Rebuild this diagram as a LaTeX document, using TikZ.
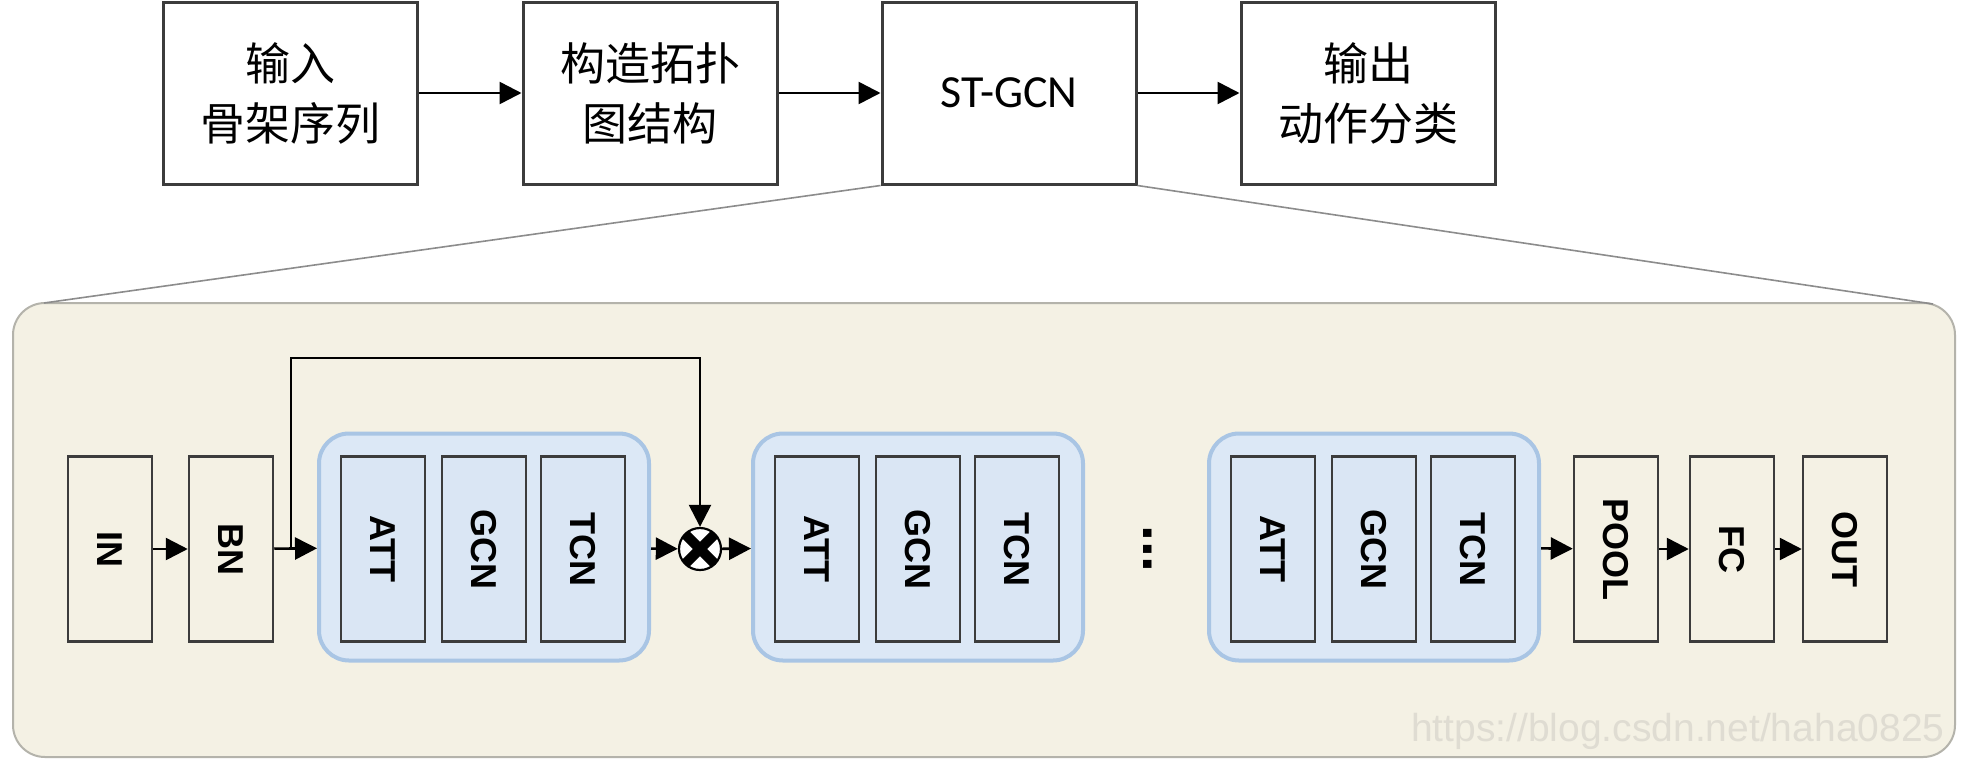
\documentclass[tikz,border=0pt]{standalone}
\usepackage{fontspec}
\setmainfont{Liberation Sans}
\newfontfamily\cjk{Noto Sans CJK SC}
\newfontfamily\carl{Carlito}
\usetikzlibrary{arrows.meta,calc}
\definecolor{panelfill}{HTML}{F4F1E4}
\definecolor{panelline}{HTML}{B4B3AB}
\definecolor{boxline}{HTML}{3C3C3C}
\definecolor{grpfill}{HTML}{DCE8F6}
\definecolor{grpline}{HTML}{A9C5E4}
\definecolor{innerfill}{HTML}{DAE6F4}
\definecolor{zoomline}{HTML}{8C8C8C}
\definecolor{wmark}{HTML}{DFDCD2}
\begin{document}
\begin{tikzpicture}[x=1pt,y=-1pt,
  topbox/.style={draw=boxline,line width=3pt,fill=white,minimum width=254pt,minimum height=182pt,inner sep=0pt,align=center},
  cjktext/.style={font=\cjk\fontsize{45}{60}\selectfont},
  layer/.style={draw=boxline,line width=2.5pt,minimum width=84pt,minimum height=185pt,inner sep=0pt,
    font=\bfseries\fontsize{36}{36}\selectfont},
  plainlayer/.style={layer,fill=panelfill},
  bluelayer/.style={layer,fill=innerfill},
  group/.style={draw=grpline,fill=grpfill,line width=4pt,rounded corners=30pt,minimum width=330pt,minimum height=227pt,inner sep=0pt},
  arr/.style={draw=black,line width=2.6pt,-{Triangle[length=22pt,width=22pt]}},
]
\useasboundingbox (0,0) rectangle (1968,772);
\fill[white] (0,0) rectangle (1968,772);

% top row
\node[topbox,cjktext] (b1) at (290,93) {输入\\骨架序列};
\node[topbox,cjktext] (b2) at (650,93) {构造拓扑\\图结构};
\node[topbox,font=\carl\fontsize{46}{46}\selectfont] (b3) at (1009,93) {ST-GCN};
\node[topbox,cjktext] (b4) at (1368,93) {输出\\动作分类};
\draw[arr] (b1) -- (b2);
\draw[arr] (b2) -- (b3);
\draw[arr] (b3) -- (b4);

% panel
\draw[draw=panelline,fill=panelfill,line width=2pt,rounded corners=32pt] (13,303) rectangle (1955,757);
\coordinate (pl) at (44,303);
\coordinate (pr) at (1933,304);
\draw[zoomline,line width=1.6pt] (b3.south west) -- (pl);
\draw[zoomline,line width=1.6pt] (b3.south east) -- (pr);

% watermark
\node[text=wmark,font=\fontsize{39}{39}\selectfont,anchor=east] (wm) at (1948,731) {https://blog.csdn.net/haha0825};

% input layers
\node[plainlayer] (in) at (110,549) {}; \node[rotate=-90,font=\bfseries\fontsize{36}{36}\selectfont] at (in) {IN};
\node[plainlayer] (bn) at (231,549) {}; \node[rotate=-90,font=\bfseries\fontsize{36}{36}\selectfont] at (bn) {BN};

% groups
\foreach \g/\x in {g1/484,g2/918,g3/1374}{
  \node[group] (\g) at (\x,547) {};
  \node[bluelayer] (\g a) at (\x-101,549) {};
  \node[bluelayer] (\g b) at (\x,549) {};
  \node[bluelayer] (\g c) at (\x+99,549) {};
  \node[rotate=-90,font=\bfseries\fontsize{36}{36}\selectfont] at (\g a) {ATT};
  \node[rotate=-90,font=\bfseries\fontsize{36}{36}\selectfont] at (\g b) {GCN};
  \node[rotate=-90,font=\bfseries\fontsize{36}{36}\selectfont] at (\g c) {TCN};
}

% output layers
\node[plainlayer] (pool) at (1616,549) {}; \node[rotate=-90,font=\bfseries\fontsize{36}{36}\selectfont] at (pool) {POOL};
\node[plainlayer] (fc) at (1732,549) {}; \node[rotate=-90,font=\bfseries\fontsize{36}{36}\selectfont] at (fc) {FC};
\node[plainlayer] (out) at (1845,549) {}; \node[rotate=-90,font=\bfseries\fontsize{36}{36}\selectfont] at (out) {OUT};

% dots
\node[rotate=-90,anchor=base,inner sep=0pt,font=\bfseries\fontsize{57}{57}\selectfont] (dots) at (1143,549) {...};

% multiply circle
\node[circle,fill=white,minimum size=44pt,inner sep=0pt] (cx) at (700,549) {};
\begin{scope}
  \clip (cx.center) circle (21pt);
  \draw[line width=10pt] (cx.45) -- (cx.225) (cx.135) -- (cx.-45);
\end{scope}
\draw[line width=2.2pt] (cx.center) circle (21pt);

% connectors
\draw[arr] (in) -- (bn);
\draw[arr] (bn) -- (g1);
\coordinate (sk) at (291,549);
\coordinate (sktop) at (291,358);
\draw[arr] (sk) -- (sktop) -| (cx.north);
\draw[arr] (g1) -- (cx);
\draw[arr] (cx) -- (g2);
\draw[arr] (g3) -- (pool);
\draw[arr] (pool) -- (fc);
\draw[arr] (fc) -- (out);
\end{tikzpicture}
\end{document}
